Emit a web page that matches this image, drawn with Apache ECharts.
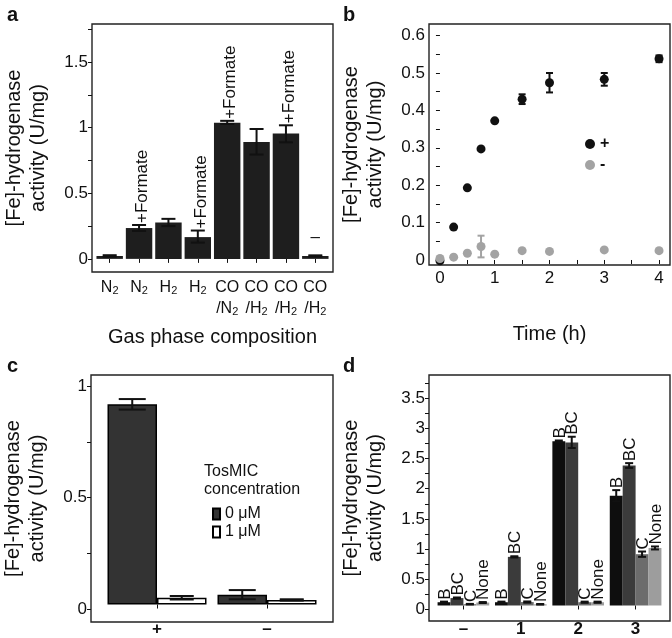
<!DOCTYPE html>
<html><head><meta charset="utf-8">
<script src="https://cdn.jsdelivr.net/npm/echarts@6/dist/echarts.min.js"></script>
<style>html,body{margin:0;padding:0;background:#fff}#c{width:672px;height:638px}</style>
</head><body><div id="c"></div>
<script>
// ---------- Panel a ----------
const catsA = ['N2', 'N2 +Formate', 'H2', 'H2 +Formate', 'CO/N2 +Formate', 'CO/H2', 'CO/H2 +Formate', 'CO/H2 -'];
const tickLabelsA = ['N{s|2}', 'N{s|2}', 'H{s|2}', 'H{s|2}', 'CO\n/N{s|2}', 'CO\n/H{s|2}', 'CO\n/H{s|2}', 'CO\n/H{s|2}'];
const valsA = [0.022, 0.235, 0.277, 0.166, 1.038, 0.89, 0.955, 0.022];
const errLoA = [0.016, 0.213, 0.25, 0.124, 1.028, 0.795, 0.888, 0.017];
const errHiA = [0.028, 0.258, 0.305, 0.216, 1.052, 0.99, 1.018, 0.027];
const labelsA = ['', '+Formate', '', '+Formate', '+Formate', '', '+Formate', ''];
const dashLabelA = ['', '', '', '', '', '', '', '\u2013'];
const dashValueA = [0, 0, 0, 0, 0, 0, 0, 0.168];
const yTicksA = [0, 0.25, 0.5, 0.75, 1, 1.25, 1.5, 1.75];
const yLabelsA = [0, 0.5, 1, 1.5];

// ---------- Panel b ----------
const timesB = [0, 0.25, 0.5, 0.75, 1, 1.5, 2, 3, 4];
const plusB = [-0.002, 0.088, 0.193, 0.297, 0.372, 0.430, 0.474, 0.483, 0.538];
const plusErrB = [0, 0, 0, 0, 0, 0.013, 0.026, 0.017, 0.009];
const minusB = [0.004, 0.0075, 0.018, 0.036, 0.0155, 0.025, 0.023, 0.027, 0.025];
const minusErrB = [0, 0, 0, 0.029, 0, 0, 0, 0, 0];
const xTicksB = [0, 0.5, 1, 1.5, 2, 2.5, 3, 3.5, 4];
const xLabelsB = [0, 1, 2, 3, 4];
const yTicksB = [0, 0.05, 0.1, 0.15, 0.2, 0.25, 0.3, 0.35, 0.4, 0.45, 0.5, 0.55, 0.6];
const yLabelsB = [0, 0.1, 0.2, 0.3, 0.4, 0.5, 0.6];

// ---------- Panel c ----------
const catsC = ['+', '\u2013'];
const c0uM = [0.915, 0.045];
const c0uMErr = [0.024, 0.021];
const c1uM = [0.031, 0.021];
const c1uMErr = [0.008, 0.003];
const yTicksC = [0, 0.25, 0.5, 0.75, 1];
const yLabelsC = [0, 0.5, 1];

// ---------- Panel d ----------
const catsD = ['\u2013', '1', '2', '3'];
const dB = [0.055, 0.055, 2.77, 1.85];
const dBErr = [0.01, 0.01, 0.012, 0.095];
const dBC = [0.125, 0.82, 2.75, 2.36];
const dBCErr = [0.01, 0.01, 0.095, 0.04];
const dC = [0.022, 0.058, 0.055, 0.865];
const dCErr = [0.005, 0.01, 0.01, 0.045];
const dNone = [0.05, 0.02, 0.055, 0.97];
const dNoneErr = [0.008, 0.005, 0.01, 0.025];
const seriesNamesD = ['B', 'BC', 'C', 'None'];
const yTicksD = [0, 0.25, 0.5, 0.75, 1, 1.25, 1.5, 1.75, 2, 2.25, 2.5, 2.75, 3, 3.25, 3.5, 3.75];
const yLabelsD = [0, 0.5, 1, 1.5, 2, 2.5, 3, 3.5];

const FONT = 'Liberation Sans, Arial, sans-serif';
const INK = '#111';
const yName = '[Fe]-hydrogenase\nactivity (U/mg)';

function hiddenX(gi, type) {
  return {gridIndex: gi, type: type || 'value', min: 0, max: 1, show: false};
}
function frameY(gi, min, max, ticks, labels, fs) {
  return {
    gridIndex: gi, type: 'value', min: min, max: max,
    axisLine: {show: false}, splitLine: {show: false},
    axisTick: {show: true, length: 4, customValues: ticks, lineStyle: {color: INK, width: 1}},
    axisLabel: {customValues: labels, fontSize: fs, color: INK, fontFamily: FONT, margin: 4},
    name: yName, nameLocation: 'middle', nameGap: 42, nameRotate: 90,
    nameTextStyle: {fontSize: 20, lineHeight: 24, color: INK, fontFamily: FONT}
  };
}
function hiddenY(gi, min, max) {
  return {gridIndex: gi, type: 'value', min: min, max: max, show: false};
}
function frameGrid(l, t, w, h) {
  return {left: l, top: t, width: w, height: h, show: true, borderColor: '#222', borderWidth: 1.4, backgroundColor: 'transparent'};
}
function plainGrid(l, t, w, h) {
  return {left: l, top: t, width: w, height: h};
}

// error bar custom series; groupIndex/groupCount/barFrac set offsets within band
function errSeries(xi, yi, xs, lo, hi, cap, opts) {
  opts = opts || {};
  const data = [];
  xs.forEach((x, i) => { if (hi[i] - lo[i] > 1e-9) data.push([x, lo[i], hi[i]]); });
  return {
    type: 'custom', xAxisIndex: xi, yAxisIndex: yi, z: 5, silent: true,
    data: data, encode: {x: 0, y: [1, 2]},
    renderItem: function (params, api) {
      const x = api.value(0);
      const p1 = api.coord([x, api.value(1)]);
      const p2 = api.coord([x, api.value(2)]);
      let off = 0;
      if (opts.count) {
        const band = api.size([1, 0])[0];
        off = (opts.index - (opts.count - 1) / 2) * band * opts.frac;
      }
      const cx = p1[0] + off;
      const st = {stroke: opts.color || INK, lineWidth: 2};
      return {type: 'group', children: [
        {type: 'line', shape: {x1: cx, y1: p1[1], x2: cx, y2: p2[1]}, style: st},
        {type: 'line', shape: {x1: cx - cap / 2, y1: p1[1], x2: cx + cap / 2, y2: p1[1]}, style: st},
        {type: 'line', shape: {x1: cx - cap / 2, y1: p2[1], x2: cx + cap / 2, y2: p2[1]}, style: st}
      ]};
    }
  };
}
// rotated text labels above bars
function labelSeries(xi, yi, tops, texts, fs, opts) {
  opts = opts || {};
  const data = [];
  tops.forEach((v, i) => { if (texts[i]) data.push([i, v, i]); });
  return {
    type: 'custom', xAxisIndex: xi, yAxisIndex: yi, z: 6, silent: true,
    data: data, encode: {x: 0, y: 1},
    renderItem: function (params, api) {
      const idx = api.value(2);
      const p = api.coord([api.value(0), api.value(1)]);
      let off = 0;
      if (opts.count) {
        const band = api.size([1, 0])[0];
        off = (opts.index - (opts.count - 1) / 2) * band * opts.frac;
      }
      if (opts.flat) {
        return {type: 'text', x: p[0] + off, y: p[1], style: {text: texts[idx], align: 'center', verticalAlign: 'middle', font: fs + 'px ' + FONT, fill: INK}};
      }
      return {type: 'text', x: p[0] + off + (opts.dx || 1), y: p[1] - 2, rotation: Math.PI / 2,
        style: {text: texts[idx], align: 'left', verticalAlign: 'middle', font: fs + 'px ' + FONT, fill: INK}};
    }
  };
}

const idxA = catsA.map((c, i) => i);
const idxC = catsC.map((c, i) => i);
const idxD = catsD.map((c, i) => i);

const dSeriesVals = [dB, dBC, dC, dNone];
const dSeriesErrs = [dBErr, dBCErr, dCErr, dNoneErr];
const dColors = ['#0e0e0e', '#3b3b3b', '#6c6c6c', '#9d9d9d'];

const series = [];
// a
series.push({type: 'bar', name: 'a', xAxisIndex: 1, yAxisIndex: 1, data: valsA, barWidth: '90%', itemStyle: {color: '#1e1e1e'}, silent: true});
series.push(errSeries(1, 1, idxA, errLoA, errHiA, 14));
series.push(labelSeries(1, 1, errHiA, labelsA, 17, {dx: 3}));
series.push(labelSeries(1, 1, dashValueA, dashLabelA, 17, {flat: true}));
// b
series.push({type: 'scatter', name: '+', xAxisIndex: 2, yAxisIndex: 2, data: timesB.map((t, i) => [t, plusB[i]]), symbolSize: 9, itemStyle: {color: '#111', opacity: 1}, z: 3});
series.push(errSeries(2, 2, timesB, plusB.map((v, i) => v - plusErrB[i]), plusB.map((v, i) => v + plusErrB[i]), 7));
series.push({type: 'scatter', name: '-', xAxisIndex: 2, yAxisIndex: 2, data: timesB.map((t, i) => [t, minusB[i]]), symbolSize: 9, itemStyle: {color: '#a3a3a3', opacity: 1}, z: 4});
series.push(errSeries(2, 2, timesB, minusB.map((v, i) => v - minusErrB[i]), minusB.map((v, i) => v + minusErrB[i]), 7, {color: '#a3a3a3'}));
// c
series.push({type: 'bar', name: '0 \u03bcM', xAxisIndex: 4, yAxisIndex: 4, data: c0uM, barWidth: '45%', barGap: '0%', itemStyle: {color: '#333', borderColor: '#000', borderWidth: 1.5}, silent: true});
series.push({type: 'bar', name: '1 \u03bcM', xAxisIndex: 4, yAxisIndex: 4, data: c1uM, barWidth: '45%', barGap: '0%', itemStyle: {color: '#fff', borderColor: '#000', borderWidth: 1.5}, silent: true});
series.push(errSeries(4, 4, idxC, c0uM.map((v, i) => v - c0uMErr[i]), c0uM.map((v, i) => v + c0uMErr[i]), 27, {index: 0, count: 2, frac: 0.45}));
series.push(errSeries(4, 4, idxC, c1uM.map((v, i) => v - c1uMErr[i]), c1uM.map((v, i) => v + c1uMErr[i]), 24, {index: 1, count: 2, frac: 0.45}));
// d
seriesNamesD.forEach((nm, k) => {
  series.push({type: 'bar', name: 'd-' + nm, xAxisIndex: 6, yAxisIndex: 6, data: dSeriesVals[k], barWidth: '22.5%', barGap: '0%', itemStyle: {color: dColors[k]}, silent: true});
});
seriesNamesD.forEach((nm, k) => {
  const v = dSeriesVals[k], e = dSeriesErrs[k];
  series.push(errSeries(6, 6, idxD, v.map((x, i) => x - e[i]), v.map((x, i) => x + e[i]), 8, {index: k, count: 4, frac: 0.225}));
  series.push(labelSeries(6, 6, v.map((x, i) => x + e[i]), catsD.map(() => nm), 17, {index: k, count: 4, frac: 0.225, dx: 1}));
});

const option = {
  animation: false,
  backgroundColor: '#fff',
  textStyle: {fontFamily: FONT},
  title: [
    {text: 'a', left: 2, top: 0, textStyle: {fontSize: 20, fontWeight: 'bold', color: INK, fontFamily: FONT}},
    {text: 'b', left: 338, top: 0, textStyle: {fontSize: 20, fontWeight: 'bold', color: INK, fontFamily: FONT}},
    {text: 'c', left: 2, top: 351, textStyle: {fontSize: 20, fontWeight: 'bold', color: INK, fontFamily: FONT}},
    {text: 'd', left: 338, top: 351, textStyle: {fontSize: 20, fontWeight: 'bold', color: INK, fontFamily: FONT}},
    {text: 'TosMIC\nconcentration', left: 199, top: 458, textStyle: {fontSize: 16, fontWeight: 'normal', lineHeight: 18, color: INK, fontFamily: FONT}}
  ],
  legend: [
    {data: ['+', '-'], orient: 'vertical', left: 580, top: 131, itemWidth: 10, itemHeight: 10, itemGap: 5, icon: 'circle', selectedMode: false,
     textStyle: {fontSize: 16, fontWeight: 'bold', color: INK, fontFamily: FONT}},
    {data: ['0 \u03bcM', '1 \u03bcM'], orient: 'vertical', left: 207, top: 501, itemWidth: 7, itemHeight: 11, itemGap: 2, icon: 'rect', selectedMode: false,
     textStyle: {fontSize: 16, color: INK, fontFamily: FONT}}
  ],
  grid: [
    frameGrid(92, 24, 241, 248),       // 0 a frame
    plainGrid(95, 24, 235, 248),       // 1 a data
    frameGrid(429, 24, 241, 241),      // 2 b
    frameGrid(91, 375, 242, 247),      // 3 c frame
    plainGrid(102, 375, 220, 247),     // 4 c data
    frameGrid(429, 375, 241, 246),     // 5 d frame
    plainGrid(434.7, 375, 229.6, 246)  // 6 d data
  ],
  xAxis: [
    hiddenX(0),
    {gridIndex: 1, type: 'category', data: catsA, axisLine: {show: false},
     axisTick: {show: true, alignWithLabel: true, length: 4, lineStyle: {color: INK}},
     axisLabel: {interval: 0, fontSize: 16, color: INK, fontFamily: FONT, margin: 5, lineHeight: 21,
       formatter: (v, i) => tickLabelsA[i], rich: {s: {fontSize: 11, padding: [7, 0, 0, 0], color: INK, fontFamily: FONT}}},
     name: 'Gas phase composition', nameLocation: 'middle', nameGap: 55,
     nameTextStyle: {fontSize: 20, color: INK, fontFamily: FONT}},
    {gridIndex: 2, type: 'value', min: -0.2, max: 4.2, axisLine: {show: false}, splitLine: {show: false},
     axisTick: {show: true, length: 4, customValues: xTicksB, lineStyle: {color: INK}},
     axisLabel: {customValues: xLabelsB, fontSize: 17, color: INK, fontFamily: FONT, margin: 5},
     name: 'Time (h)', nameLocation: 'middle', nameGap: 59,
     nameTextStyle: {fontSize: 20, color: INK, fontFamily: FONT}},
    hiddenX(3),
    {gridIndex: 4, type: 'category', data: catsC, axisLine: {show: false},
     axisTick: {show: true, alignWithLabel: true, length: 4, lineStyle: {color: INK}},
     axisLabel: {fontSize: 17, fontWeight: 'bold', color: INK, fontFamily: FONT, margin: 4}},
    hiddenX(5),
    {gridIndex: 6, type: 'category', data: catsD, axisLine: {show: false},
     axisTick: {show: true, alignWithLabel: true, length: 4, lineStyle: {color: INK}},
     axisLabel: {fontSize: 17, fontWeight: 'bold', color: INK, fontFamily: FONT, margin: 4}}
  ],
  yAxis: [
    frameY(0, -0.1, 1.79, yTicksA, yLabelsA, 17),
    hiddenY(1, -0.1, 1.79),
    frameY(2, -0.0134, 0.631, yTicksB, yLabelsB, 17),
    frameY(3, -0.057, 1.049, yTicksC, yLabelsC, 17),
    hiddenY(4, -0.057, 1.049),
    frameY(5, -0.194, 3.886, yTicksD, yLabelsD, 17),
    hiddenY(6, -0.194, 3.886)
  ],
  series: series
};
const chart = echarts.init(document.getElementById('c'));
chart.setOption(option);
</script></body></html>
